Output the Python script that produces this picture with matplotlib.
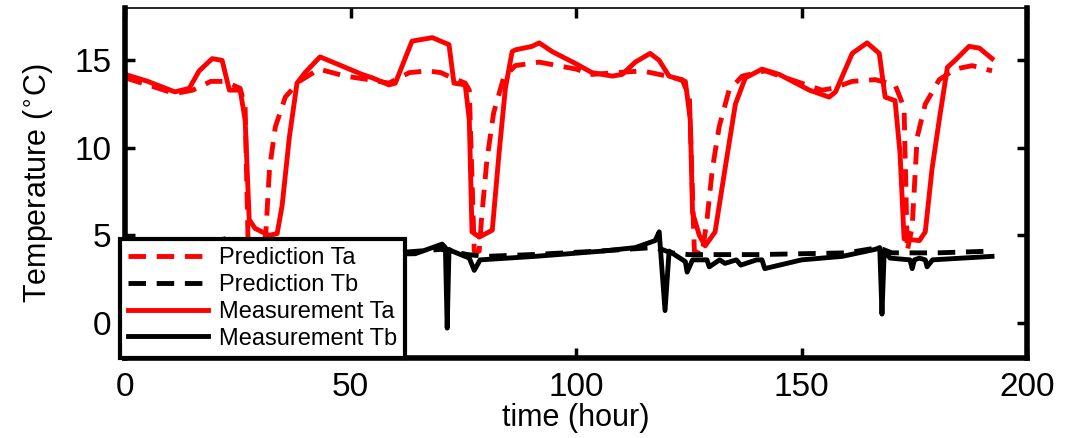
import numpy as np
import matplotlib
matplotlib.use('Agg')
import matplotlib.pyplot as plt

plt.rcParams['font.family'] = ['Liberation Sans', 'DejaVu Sans']

# Prediction Ta (dashed red)
t_pred_a = [0, 5, 11, 15, 19, 22, 25.5, 26.6, 27.3, 30.5, 31.2, 32.0, 33.3, 35.5,
            38.6, 43.0, 48.8, 54, 58.5, 63, 67, 70, 72.5, 75.4, 76.3, 77.4, 78.5,
            79.0, 80.2, 81.7, 83.9, 86.5, 91.8, 100, 103.5, 114.6, 118.4, 123.5,
            125.1, 126.2, 127.9, 129.0, 130.2, 131.7, 133.9, 136.8, 141.9, 154.5,
            156.8, 161.2, 166.3, 170.7, 172.7, 173.4, 174.5, 175.6, 177.4, 180.5,
            184.0, 187.8, 192.2]
pred_a = [14.0, 13.6, 13.1, 13.3, 13.8, 13.8, 13.4, 12.3, 4.0, 4.0, 5.2, 8.8, 11.2, 12.9,
          13.8, 14.5, 14.1, 13.9, 13.7, 14.3, 14.4, 14.3, 14.0, 13.7, 13.3, 4.1, 4.1,
          5.9, 9.3, 12.0, 14.0, 14.7, 14.9, 14.5, 14.2, 14.4, 14.2, 13.9,
          12.9, 4.1, 3.9, 5.9, 8.8, 11.2, 13.3, 14.1, 14.4, 13.3,
          13.4, 13.8, 13.9, 13.6, 12.3, 4.1, 5.5, 10.6, 12.5, 13.9,
          14.5, 14.7, 14.4]

# Prediction Tb (dashed black)
t_pred_b = [0, 10, 20, 22, 24, 28, 40, 60, 70, 72, 76, 80, 90, 105, 117, 119, 121,
            125, 140, 160, 167, 170, 180, 192.2]
pred_b = [4.0, 4.0, 4.2, 4.3, 4.1, 3.8, 3.9, 4.0, 4.2, 4.1, 3.9, 3.8, 3.9, 4.1, 4.3, 4.2, 4.0,
          3.9, 3.9, 4.0, 4.3, 4.0, 4.0, 4.1]

# Measurement Ta (solid red)
t_meas_a = [0, 5, 11, 14.2, 16.4, 19.3, 21.5, 23.1, 25.5, 26.6, 27.5, 28.8, 31.9, 33.7,
            34.8, 36.4, 38.1, 39.9, 43.2, 48.8, 52.5, 54.8, 58.5, 59.9, 63.6, 68.1,
            71.8, 72.9, 75.4, 76.3, 76.9, 78.5, 80.7, 81.4, 82.9, 84.3, 85.8, 86.5,
            90.2, 91.8, 94.7, 100, 103.5, 108, 110.2, 113.1, 116.4, 118.4, 120.6,
            124.2, 125.3, 125.8, 127.3, 128.6, 130.8, 133.0, 135.3, 137.5, 141.2,
            145.0, 151.7, 156.1, 157.5, 161.2, 164.5, 167.2, 168.5, 170.7, 171.8,
            172.7, 176.1, 177.4, 178.9, 180.5, 182.3, 184.0, 187.1, 189.4, 192.2]
meas_a = [14.2, 13.8, 13.2, 13.4, 14.4, 15.1, 15.0, 13.3, 13.3, 11.6, 5.9, 5.4, 5.0, 5.1,
          6.7, 10.6, 13.7, 14.3, 15.2, 14.6, 14.2, 14.0, 13.6, 13.7, 16.1, 16.3,
          15.9, 13.7, 13.6, 11.6, 5.2, 4.9, 5.2, 5.3, 9.7, 13.4, 15.5, 15.6,
          15.8, 16.0, 15.5, 14.8, 14.3, 14.1, 14.2, 14.9, 15.4, 15.0, 14.1,
          13.8, 11.6, 6.3, 5.0, 4.4, 5.2, 8.8, 12.5, 14.0, 14.5,
          14.2, 13.3, 12.9, 13.2, 15.4, 16.0, 15.4, 12.9, 12.7, 9.7,
          4.8, 4.7, 5.2, 8.8, 11.6, 14.6, 15.0, 15.8, 15.7, 15.1]

# Measurement Tb (solid black)
t_meas_b = [0, 10, 20, 22, 24, 26, 28, 35, 50, 64.3, 70.3, 71.0, 71.4, 71.8, 72.5,
            76.3, 77.4, 78.7, 90.9, 105.8, 113.1, 117.5, 118.4, 119.7, 120.6, 124.2,
            124.6, 125.8, 127.9, 129.0, 129.5, 131.8, 133.0, 135.5, 136.5, 140, 141.2,
            141.8, 150, 159, 166.3, 167.3, 167.8, 168.3, 169.6, 174.0, 174.5, 175.0,
            176.1, 177.4, 177.8, 179.0, 192.2]
meas_b = [4.0, 3.9, 4.2, 4.8, 4.0, 3.8, 3.6, 3.7, 3.9, 3.95, 4.5, 4.3, -0.3, 4.2, 4.1,
          3.7, 3.0, 3.6, 3.8, 4.1, 4.3, 4.7, 5.2, 0.7, 4.1, 3.5,
          2.9, 3.6, 3.6, 3.6, 3.2, 3.6, 3.4, 3.6, 3.3, 3.6, 3.6,
          3.1, 3.6, 3.8, 4.2, 4.3, 0.5, 4.1, 3.7, 3.6, 3.1, 3.6,
          3.7, 3.6, 3.2, 3.6, 3.8]

fig = plt.figure(figsize=(10.79, 4.38), dpi=100)
ax = fig.add_axes([0.116, 0.183, 0.836, 0.799])

lw = 3.5
ax.plot(t_pred_a, pred_a, color='red', lw=lw, ls=(0, (3.6, 2.2)), label='Prediction Ta')
ax.plot(t_pred_b, pred_b, color='black', lw=lw, ls=(0, (3.6, 2.2)), label='Prediction Tb')
ax.plot(t_meas_a, meas_a, color='red', lw=lw, label='Measurement Ta')
ax.plot(t_meas_b, meas_b, color='black', lw=lw, label='Measurement Tb')

ax.set_xlim(0, 200)
ax.set_ylim(-2, 18)
ax.set_xticks([0, 50, 100, 150, 200])
ax.set_yticks([0, 5, 10, 15])

for side in ['left', 'bottom', 'right']:
    ax.spines[side].set_linewidth(4)
ax.spines['top'].set_linewidth(1.2)

ax.tick_params(direction='in', length=7, width=2.5, labelsize=24, pad=10,
               top=True, right=True)

ax.set_xlabel('time (hour)', fontsize=22, labelpad=0)
ax.set_ylabel(r'Temperature ($^{\circ}$C)', fontsize=22, labelpad=14)

leg = ax.legend(loc='lower left', bbox_to_anchor=(-0.006, 0.0), borderaxespad=0,
                fontsize=17, fancybox=False, framealpha=1, edgecolor='black',
                handlelength=3.4, handletextpad=0.45, labelspacing=0.2,
                borderpad=0.35)
leg.get_frame().set_linewidth(3)

fig.savefig('out.png', dpi=100)
